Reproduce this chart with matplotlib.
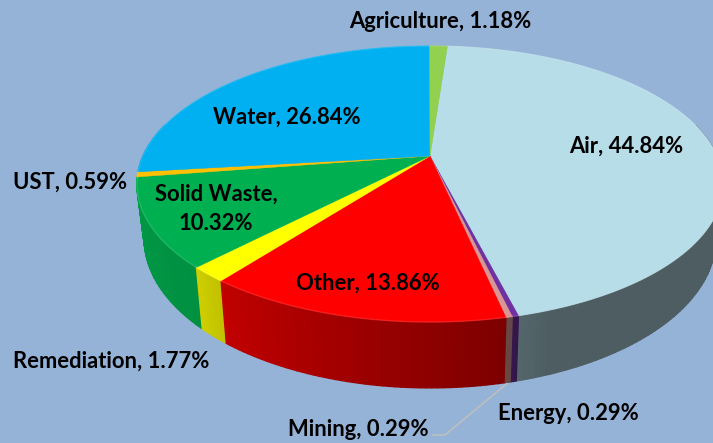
import numpy as np
from matplotlib import pyplot as plt
from matplotlib.colors import to_rgb

# clockwise from the top, starting at Agriculture's right edge
names = ["Air", "Energy", "Mining", "Other", "Remediation", "Solid Waste", "UST", "Water", "Agriculture"]
shares = [44.84, 0.29, 0.29, 13.86, 1.77, 10.32, 0.59, 26.84, 1.18]
colors = ["#B7DDE8", "#7030A0", "#D99694", "#FF0000", "#FFFF00", "#00B050", "#FFC000", "#00B0F0", "#92D050"]
label_pos = [(626, 146), (568, 413), (358, 430), (368, 283), (111, 361), (216, 209), (70, 182), (287, 117), (440, 21)]

BACKGROUND = "#95B3D7"
START_ANGLE = np.deg2rad(360 * shares[-1] / 100)

# perspective of the pie in pixels
CX, CY = 430, 156
RX, RY = 287, 132.3
TILT = 0.203
DEPTH = 52.5
SHRINK = 0.975


def top_rim(t):
    w = 1 + TILT * np.cos(t)
    return CX + RX * np.sin(t) / w, CY - RY * np.cos(t) / w


def bottom_rim(t):
    x, y = top_rim(t)
    w = 1 + TILT * np.cos(t)
    return CX + (x - CX) * SHRINK, y + DEPTH / w


def side_shade(t):
    deg = np.rad2deg(t) % 360
    return np.interp(deg, [90, 160, 170, 218, 225, 262, 300], [0.42, 0.42, 0.5, 0.76, 0.82, 0.88, 0.88])


fig = plt.figure(figsize=(7.13, 4.43), dpi=100, facecolor=BACKGROUND)
ax = fig.add_axes([0, 0, 1, 1])
ax.set_xlim(0, 713)
ax.set_ylim(443, 0)
ax.axis("off")

edges = START_ANGLE + np.deg2rad(np.cumsum([0] + shares) * 3.6)

# outer wall, back to front, then the top face
walls = []
for start, end, color in zip(edges[:-1], edges[1:], colors):
    steps = np.linspace(start, end, max(2, int(np.rad2deg(end - start)) + 2))
    base = np.array(to_rgb(color))
    for a, b in zip(steps[:-1], steps[1:]):
        if np.cos((a + b) / 2) > 0.25:
            continue
        walls.append((-np.cos((a + b) / 2), a, b, base))

walls.sort(key=lambda item: item[0])
for _, a, b, base in walls:
    xa, ya = top_rim(np.array([a, b]))
    xb, yb = bottom_rim(np.array([b, a]))
    shade = base * side_shade((a + b) / 2)
    ax.fill(np.r_[xa, xb], np.r_[ya, yb], color=shade, lw=1.0, zorder=2)

for start, end, color in zip(edges[:-1], edges[1:], colors):
    t = np.linspace(start, end, max(3, int(np.rad2deg(end - start)) * 2 + 2))
    x, y = top_rim(t)
    ax.fill(np.r_[CX, x], np.r_[CY, y], color=color, lw=0.3, zorder=3)
    # soft bevel along the rim
    light = np.array(to_rgb(color)) * 0.8 + 0.2
    ax.plot(x, y, color=light, lw=1.0, alpha=0.6, zorder=4)

# leader line for Mining
mining_mid = (edges[2] + edges[3]) / 2
lx, ly = bottom_rim(mining_mid)
ax.plot([lx, 445, 433], [ly + 1, 435, 435], color="#BFBFBF", lw=1.1, zorder=1)

for name, share, (px, py) in zip(names, shares, label_pos):
    sep = ",\n" if name == "Solid Waste" else ", "
    ax.text(px, py, f"{name}{sep}{share:.2f}%", ha="center", va="center", family="Lato",
            fontweight="bold", fontsize=15.8, color="black", linespacing=1.45, zorder=5)

fig.savefig("out.png", dpi=100, facecolor=BACKGROUND)
